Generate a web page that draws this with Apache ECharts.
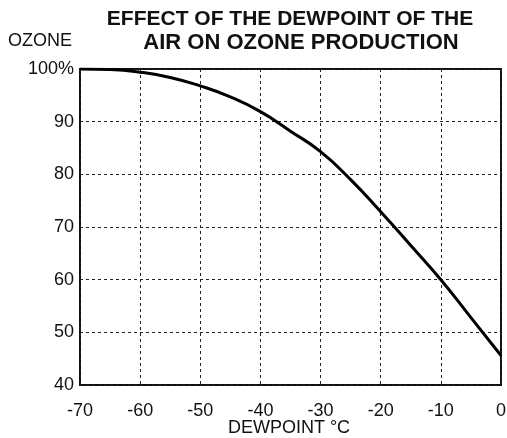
<!DOCTYPE html>
<html><head><meta charset="utf-8">
<script src="https://cdn.jsdelivr.net/npm/echarts@6/dist/echarts.min.js"></script>
<style>html,body{margin:0;padding:0;background:#fff}#c{width:507px;height:438px}</style>
</head><body><div id="c"></div>
<script>
const dewpoint = [-70, -65, -60, -55, -50, -45, -40, -35, -30, -25, -20, -15, -10, -5, 0];
const ozone = [100, 99.9, 99.4, 98.4, 96.8, 94.7, 91.9, 88.2, 84.3, 79, 72.9, 66.5, 60, 52.8, 45.6];
const titleLines = ["EFFECT OF THE DEWPOINT OF THE", "AIR ON OZONE PRODUCTION"];
const yName = "OZONE";
const xName = "DEWPOINT °C";

const font = "'Liberation Sans', Arial, sans-serif";
const chart = echarts.init(document.getElementById('c'));
chart.setOption({
  backgroundColor: '#fff',
  animation: false,
  graphic: [{
    type: 'text', x: 290, y: 19,
    style: { text: titleLines[0], font: 'bold 21px ' + font, fill: '#111', align: 'center', verticalAlign: 'middle' }
  }, {
    type: 'text', x: 301, y: 43,
    style: { text: titleLines[1], font: 'bold 22px ' + font, fill: '#111', align: 'center', verticalAlign: 'middle' }
  }, {
    type: 'text', x: 8, y: 41,
    style: { text: yName, font: '18px ' + font, fill: '#111', align: 'left', verticalAlign: 'middle' }
  }, {
    type: 'text', x: 289, y: 428,
    style: { text: xName, font: '18px ' + font, fill: '#111', align: 'center', verticalAlign: 'middle' }
  }],
  grid: { left: 80, right: 6, top: 69, bottom: 53, show: true, borderColor: '#111', borderWidth: 2,
    containLabel: false, outerBoundsMode: 'none' },
  xAxis: {
    type: 'value', min: -70, max: 0, interval: 10,
    axisLine: { show: false }, axisTick: { show: false },
    axisLabel: { fontFamily: font, fontSize: 18, color: '#111', margin: 17 },
    splitLine: { show: true, lineStyle: { color: '#222', type: [3, 3], width: 1 } }
  },
  yAxis: {
    type: 'value', min: 40, max: 100, interval: 10,
    axisLine: { show: false }, axisTick: { show: false },
    axisLabel: { fontFamily: font, fontSize: 18, color: '#111', margin: 6,
      formatter: v => v === 100 ? '100%' : String(v) },
    splitLine: { show: true, lineStyle: { color: '#222', type: [3, 3], width: 1 } }
  },
  series: [{
    type: 'line', smooth: true, symbol: 'none',
    data: dewpoint.map((d, i) => [d, ozone[i]]),
    lineStyle: { color: '#000', width: 3 }
  }]
});
</script></body></html>
